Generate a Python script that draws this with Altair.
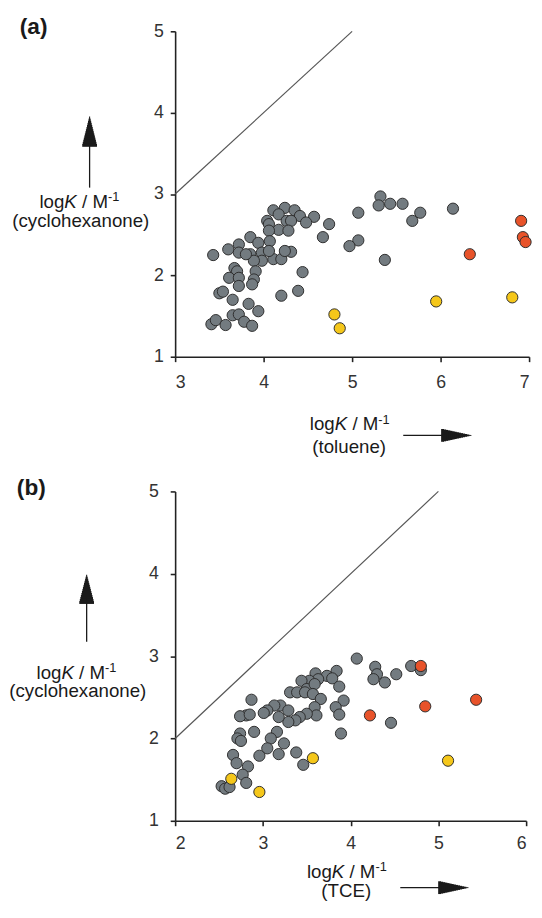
import altair as alt
import pandas as pd

FONT = "Liberation Sans"
TXT = "#1a1a1a"
GRAY = "#737b80"
YELLOW = "#f5c71a"
ORANGE = "#e8532a"
EDGE = "#2e2e2e"

# ---------------- panel (a): toluene vs cyclohexanone ----------------
a_gray_x = [4.11, 4.24, 4.35, 4.41, 4.57, 4.17, 4.26, 4.04, 4.06, 4.31, 4.48, 4.17, 4.28, 4.06,
            4.74, 4.67, 5.07, 5.07, 4.97,
            3.43, 3.60, 3.72, 3.85, 3.94, 3.85, 3.98, 4.07, 4.11, 4.20, 4.31, 4.24, 3.72, 4.06,
            3.98, 3.89, 3.80,
            3.67, 3.70, 3.61, 3.72, 3.91, 3.89, 3.87, 3.72, 4.44, 4.39, 4.20, 3.50, 3.54, 3.65,
            3.83, 3.94,
            3.41, 3.46, 3.57, 3.65, 3.72, 3.78, 3.87,
            5.37, 5.32, 5.30, 5.43, 5.57, 5.68, 5.77, 6.14]
a_gray_y = [2.80, 2.83, 2.80, 2.73, 2.72, 2.75, 2.67, 2.67, 2.63, 2.67, 2.65, 2.56, 2.55, 2.55,
            2.63, 2.47, 2.77, 2.43, 2.36,
            2.25, 2.32, 2.38, 2.47, 2.40, 2.26, 2.28, 2.42, 2.20, 2.20, 2.29, 2.30, 2.28, 2.30,
            2.18, 2.18, 2.26,
            2.09, 2.05, 1.97, 1.97, 2.05, 1.95, 1.89, 1.87, 2.04, 1.81, 1.75, 1.78, 1.80, 1.70,
            1.65, 1.56,
            1.40, 1.45, 1.39, 1.51, 1.52, 1.43, 1.38,
            2.19, 2.97, 2.86, 2.88, 2.88, 2.67, 2.77, 2.82]
a_yellow_x = [4.80, 4.86, 5.95, 6.81]
a_yellow_y = [1.52, 1.35, 1.68, 1.73]
a_orange_x = [6.91, 6.93, 6.96, 6.33]
a_orange_y = [2.67, 2.47, 2.41, 2.26]

# ---------------- panel (b): TCE vs cyclohexanone ----------------
b_gray_x = [4.07, 3.84, 3.73, 3.60, 3.63, 3.53, 3.44, 3.50, 3.59, 3.79, 3.87, 3.92, 3.83, 3.87, 3.89,
            3.31, 3.39, 3.48, 3.57, 3.66, 3.59, 3.61, 3.50, 3.42, 3.37, 3.29, 3.20, 3.13, 3.05, 3.01,
            3.18, 3.29,
            2.87, 2.81, 2.74, 2.85, 2.90, 2.74, 2.71, 2.75, 3.16, 3.24, 3.09, 3.05, 3.18, 2.96, 3.38,
            3.46, 2.66, 2.70, 2.83, 2.77, 2.81, 2.53, 2.57, 2.62,
            4.28, 4.30, 4.26, 4.39, 4.52, 4.69, 4.80, 4.46]
b_gray_y = [2.97, 2.82, 2.76, 2.79, 2.72, 2.70, 2.70, 2.60, 2.66, 2.73, 2.63, 2.46, 2.38, 2.29, 2.06,
            2.56, 2.56, 2.56, 2.54, 2.48, 2.38, 2.28, 2.30, 2.26, 2.22, 2.20, 2.40, 2.40, 2.34, 2.31,
            2.26, 2.34,
            2.47, 2.28, 2.27, 2.29, 2.08, 2.06, 2.00, 1.97, 2.08, 1.94, 2.00, 1.88, 1.81, 1.79, 1.83,
            1.68, 1.80, 1.70, 1.66, 1.56, 1.46, 1.42, 1.39, 1.41,
            2.87, 2.78, 2.72, 2.68, 2.78, 2.88, 2.83, 2.19]
b_yellow_x = [2.64, 2.96, 3.57, 5.11]
b_yellow_y = [1.51, 1.35, 1.76, 1.73]
b_orange_x = [4.80, 4.85, 4.22, 5.43]
b_orange_y = [2.88, 2.39, 2.28, 2.47]

A_X_TICKS = [3, 4, 5, 6, 7]
B_X_TICKS = [2, 3, 4, 5, 6]
Y_TICKS = [1, 2, 3, 4, 5]
A_DIAG = [3, 5]
B_DIAG = [2, 5]

one = pd.DataFrame({"k": [0]})


def txt(s, x, y, size=19, style="normal", weight="normal", align="left"):
    return alt.Chart(one).mark_text(
        text=s, align=align, baseline="alphabetic", font=FONT, fontSize=size,
        fontStyle=style, fontWeight=weight, color=TXT
    ).encode(x=alt.value(x), y=alt.value(y))


def logk(xs, y):
    return [txt("log", xs, y), txt("K", xs + 25.3, y, style="italic"),
            txt("/ M", xs + 43.3, y), txt("-1", xs + 69.7, y - 7, size=13)]


def rule(x, y, x2, y2, opacity=1.0, width=1.3):
    return alt.Chart(one).mark_rule(color=TXT, strokeWidth=width, opacity=opacity).encode(
        x=alt.value(x), y=alt.value(y), x2=alt.value(x2), y2=alt.value(y2))


def up_head(x, tip, base, half):
    # filled arrow head built from a tapered stack of short rules
    layers = []
    n = 14
    for i in range(n + 1):
        yy = tip + (base - tip) * i / n
        w = half * i / n
        layers.append(rule(x - w, yy, x + w, yy, width=(base - tip) / n + 0.8))
    return layers


def right_head(y, tip, base, half):
    layers = []
    n = 14
    for i in range(n + 1):
        xx = tip - (tip - base) * i / n
        w = half * i / n
        layers.append(rule(xx, y - w, xx, y + w, width=(tip - base) / n + 0.8))
    return layers


def axis(values, pad):
    return alt.Axis(values=values, title=None, grid=False, format="d",
                    domainColor="#222", domainWidth=1.6, tickColor="#222", tickWidth=1.6,
                    tickSize=5, labelFont=FONT, labelFontSize=18, labelColor="#333",
                    labelPadding=pad)


def panel(gx, gy, yx, yy, ox, oy, xdom, xticks, diag, ypad, xpad):
    xenc = alt.X("x:Q", scale=alt.Scale(domain=xdom, nice=False, zero=False), axis=axis(xticks, xpad))
    yenc = alt.Y("y:Q", scale=alt.Scale(domain=[1, 5], nice=False, zero=False), axis=axis(Y_TICKS, ypad))
    line = alt.Chart(pd.DataFrame({"x": diag, "y": diag})).mark_line(
        color="#555", strokeWidth=1.2).encode(x=xenc, y=yenc)
    pts = []
    for xs, ys, col in [(gx, gy, GRAY), (yx, yy, YELLOW), (ox, oy, ORANGE)]:
        pts.append(alt.Chart(pd.DataFrame({"x": xs, "y": ys})).mark_circle(
            size=130, color=col, stroke=EDGE, strokeWidth=1, opacity=1).encode(x=xenc, y=yenc))
    return [line] + pts


# panel (a)
A_layers = panel(a_gray_x, a_gray_y, a_yellow_x, a_yellow_y, a_orange_x, a_orange_y,
                 [3, 7], A_X_TICKS, A_DIAG, 7, 12)
A_layers += [
    txt("(a)", -158, 3, size=23, weight="bold"),
    *logk(-138, 180), txt("(cyclohexanone)", -96, 199, align="center"),
    rule(-87, 159, -87, 112), *up_head(-87, 86, 116, 7.5),
    *logk(137, 406), txt("(toluene)", 177, 429, align="center"),
    rule(232, 411, 274, 411), *right_head(411, 302, 272, 6.5),
    rule(-167, -16, -167, 444, opacity=0),
]
A = alt.layer(*A_layers).properties(width=360, height=331)

# panel (b)
B_layers = panel(b_gray_x, b_gray_y, b_yellow_x, b_yellow_y, b_orange_x, b_orange_y,
                 [2, 6], B_X_TICKS, B_DIAG, 12, 9)
B_layers += [
    txt("(b)", -161, 4, size=23, weight="bold"),
    *logk(-141, 191), txt("(cyclohexanone)", -99, 209, align="center"),
    rule(-90, 153, -90, 108), *up_head(-90, 84, 113, 7.5),
    *logk(134, 393), txt("(TCE)", 174, 413, align="center"),
    rule(229, 403, 271, 403), *right_head(403, 299, 269, 6.5),
    rule(-170, -24, -170, 300, opacity=0),
]
B = alt.layer(*B_layers).properties(width=357, height=335)

chart = alt.vconcat(A, B, spacing=0).properties(
    padding=0, background="white"
).configure_view(stroke=None)

chart.save("out.html", embed_options={"renderer": "svg", "actions": False})
